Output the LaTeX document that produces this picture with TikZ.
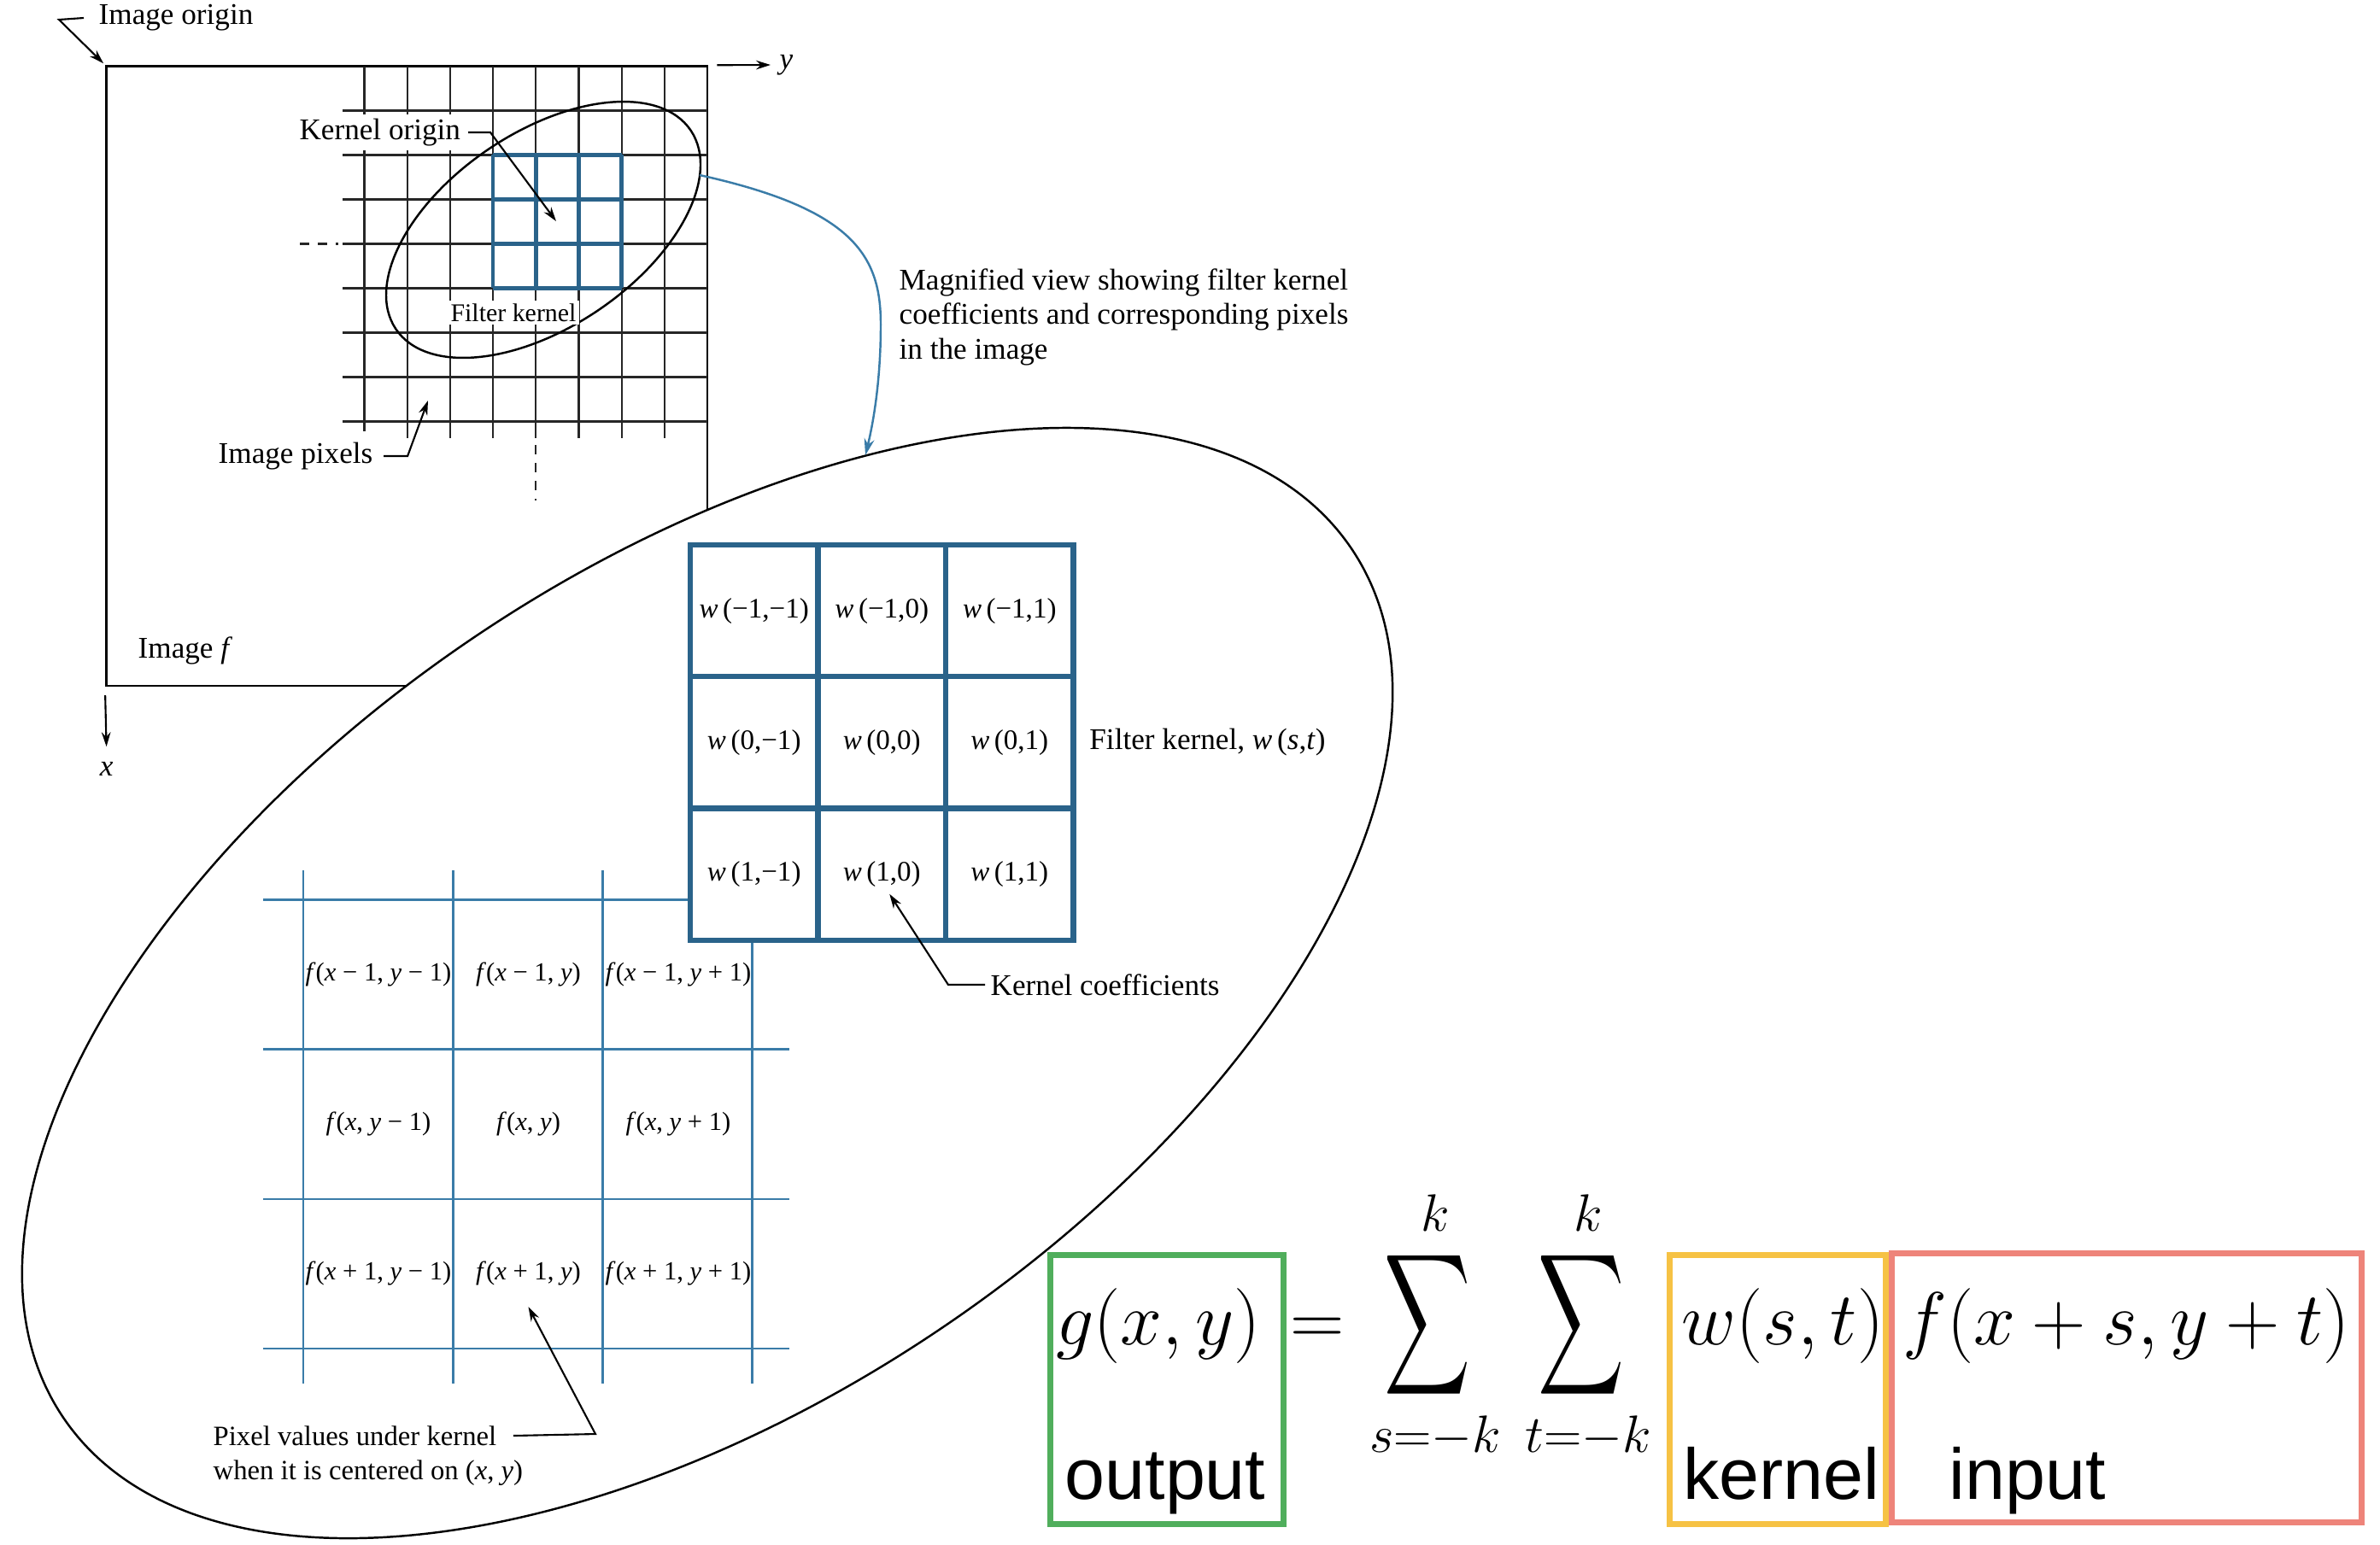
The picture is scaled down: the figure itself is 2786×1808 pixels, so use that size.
\documentclass[tikz,border=0pt]{standalone}
\usepackage{fix-cm}
\usepackage{amsmath}
\usepackage{fontspec}
\setmainfont{Liberation Serif}
\newfontfamily\eqsans{Liberation Sans}
\usepackage{graphicx}
\usetikzlibrary{arrows.meta, positioning}

\definecolor{kernblue}{RGB}{42,99,138}
\definecolor{gridblue}{RGB}{58,124,168}
\definecolor{outgreen}{RGB}{80,174,92}
\definecolor{kernyellow}{RGB}{246,194,68}
\definecolor{inred}{RGB}{238,132,122}

\newcommand{\bigsum}{\mathop{\scalebox{0.8}[1.32]{$\displaystyle\sum$}}\limits}

\begin{document}
\begin{tikzpicture}[
  x=0.01cm, y=-0.01cm,
  lbl/.style={font=\fontsize{10}{11.5}\selectfont, inner sep=0pt},
  small/.style={font=\fontsize{8.5}{10}\selectfont, inner sep=1pt, fill=white},
  pixline/.style={line width=0.65pt, black!85},
  kline/.style={line width=1.3pt, kernblue},
  wcell/.style={rectangle, draw=kernblue, line width=1.8pt, fill=white, minimum width=1.495cm, minimum height=1.543cm, inner sep=0pt, font=\fontsize{9.4}{11}\selectfont},
  fcell/.style={font=\fontsize{8.7}{10}\selectfont, inner sep=0pt},
  fline/.style={line width=0.7pt, gridblue},
  arrow/.style={line width=0.6pt, -{Stealth[length=4.8pt, width=3pt]}},
  magarrow/.style={line width=0.7pt, draw=gridblue, -{Stealth[length=5.5pt, width=3.4pt]}},
  eqbox/.style={rectangle, line width=2pt, minimum height=3.14cm, inner sep=0pt},
  eqmath/.style={font=\fontsize{25}{30}\selectfont, inner sep=0pt, anchor=base},
  eqword/.style={font=\eqsans\fontsize{24}{28}\selectfont, inner sep=0pt, anchor=base}
]
\useasboundingbox (0,0) rectangle (2786,1808);

% Image and axes
\node (image) [draw, line width=0.7pt, minimum width=7.034cm, minimum height=7.25cm, inner sep=0pt] at (476.3,440.2) {};
\node (origin) [lbl, anchor=west] at (115,21) {Image origin};
\node (ylabel) [lbl, anchor=west] at (912,76) {\textit{y}};
\node (xlabel) [lbl] at (124.6,900) {\textit{x}};
\node (imgf) [lbl, anchor=west] at (161,762) {Image \textit{f}};
\coordinate (originbend) at (69,23);
\draw [arrow] ([xshift=-0.17cm]origin.west) -- (originbend) -- ([shift={(-0.02cm,0.02cm)}]image.north west);
\draw [arrow] ([xshift=0.1cm]image.north east) -- ([xshift=-0.1cm]ylabel.west);
\draw [arrow] ([yshift=-0.1cm]image.south west) -- ([yshift=0.17cm]xlabel.north);

% Image pixels
\foreach \j in {0,...,7}
  \draw [pixline] (401,{129.4+52*\j}) -- (828,{129.4+52*\j});
\draw [pixline] (426.5,77.7) -- (426.5,505);
\foreach \i in {1,...,7}
  \draw [pixline] ({426.5+50.2*\i},77.7) -- ({426.5+50.2*\i},513);
\draw [pixline, dashed] (351,285.4) -- (396,285.4);
\draw [pixline, dashed] (627.3,521) -- (627.3,586);

% Filter kernel on the image
\foreach \i in {0,...,3} {
  \draw [kline] ({577.1+50.2*\i},181.4) -- ({577.1+50.2*\i},337.4);
  \draw [kline] (577.1,{181.4+52*\i}) -- (727.7,{181.4+52*\i});
}
\draw [line width=0.7pt] (636,269) ellipse [x radius=2.08cm, y radius=1.14cm, rotate=34];
\node (fklabel) [small] at (601,366) {Filter kernel};
\node (korigin) [lbl, fill=white, inner sep=1.5pt, anchor=east] at (545,155) {Kernel origin};
\node (pixlabel) [lbl, anchor=west] at (255,534) {Image pixels};
\draw [arrow] ([xshift=0.03cm]korigin.east) -- ++(0.26cm,0) -- (651,259);
\draw [arrow] ([xshift=0.12cm]pixlabel.east) -- ++(0.28cm,0) -- (501,469);

% Magnified view
\draw [line width=0.7pt, fill=white] (828,1151) ellipse [x radius=9.09cm, y radius=4.88cm, rotate=34];
\node (magtext) [lbl, anchor=north west, align=left] at (1052,314) {Magnified view showing filter kernel\\coefficients and corresponding pixels\\in the image};
\coordinate (magstart) at (819,205);
\coordinate (magbend) at (1031,380);
\coordinate (magend) at (1013,533);
\draw [magarrow] (magstart) .. controls (1000,245) and (1031,300) .. (magbend) .. controls (1031,450) and (1021,500) .. (magend);

% Pixel values under the kernel
\foreach \x in {355,530.5,705.5,880.5}
  \draw [fline] (\x,1019) -- (\x,1620);
\foreach \y in {1053.5,1228.5,1404,1579}
  \draw [fline] (308,\y) -- (924,\y);
\foreach \ox [count=\r] in {{\ −\ 1},{},{\ +\ 1}}
  \foreach \oy [count=\c] in {{\ −\ 1},{},{\ +\ 1}}
    \node (f\r\c) [fcell] at ({267.5+175.5*\c},{965.5+175.2*\r}) {\textit{f}(\textit{x}\ox, \textit{y}\oy)};
\node (pixval) [lbl, font=\fontsize{9.3}{11}\selectfont, anchor=west] at (249,1681) {Pixel values under kernel};
\node (pixval2) [lbl, font=\fontsize{9.3}{11}\selectfont, anchor=west] at (249,1724.5) {when it is centered on (\textit{x}, \textit{y})};
\coordinate (pixbend) at (697,1679);
\draw [arrow] ([xshift=0.19cm]pixval.east) -- (pixbend) -- ([yshift=-0.39cm]f32.center);

% Kernel coefficients
\foreach \s [count=\r] in {−1,0,1}
  \foreach \t [count=\c] in {−1,0,1}
    \node (w\r\c) [wcell] at ({808+149.5*(\c-0.5)},{638+154.3*(\r-0.5)}) {\textit{w}\,(\s,\t)};
\node (fkw) [lbl, right=0.15cm of w23] {Filter kernel, \textit{w}\,(\textit{s},\textit{t})};
\node (kcoef) [lbl, anchor=west] at (1159,1153) {Kernel coefficients};
\draw [arrow] ([xshift=-0.06cm]kcoef.west) -- ++(-0.43cm,0) -- ([shift={(0.09cm,-0.23cm)}]w32.center);

% Equation
\node (gxy) [eqmath] at (1356,1574) {$g(x,y)$};
\node (equals) [eqmath] at (1542,1574) {$=$};
\node (sumA) [eqmath] at (1680,1580) {$\displaystyle\bigsum_{s{=}{-}k}^{k}$};
\node (sumB) [eqmath] at (1859,1580) {$\displaystyle\bigsum_{t{=}{-}k}^{k}$};
\node (wst) [eqmath] at (2087,1574) {$w(s,t)$};
\node (fxy) [eqmath] at (2489,1574) {$f(x+s,y+t)$};
\node (outbox) [eqbox, draw=outgreen, minimum width=2.72cm] at (1366,1627) {};
\node (kerbox) [eqbox, draw=kernyellow, minimum width=2.525cm] at (2081,1627) {};
\node (inbox) [eqbox, draw=inred, minimum width=5.49cm] at (2489.5,1625) {};
\node (outword) [eqword] at (1364,1755) {output};
\node (kerword) [eqword] at (2085,1755) {kernel};
\node (inword) [eqword] at (2373,1755) {input};
\end{tikzpicture}
\end{document}
